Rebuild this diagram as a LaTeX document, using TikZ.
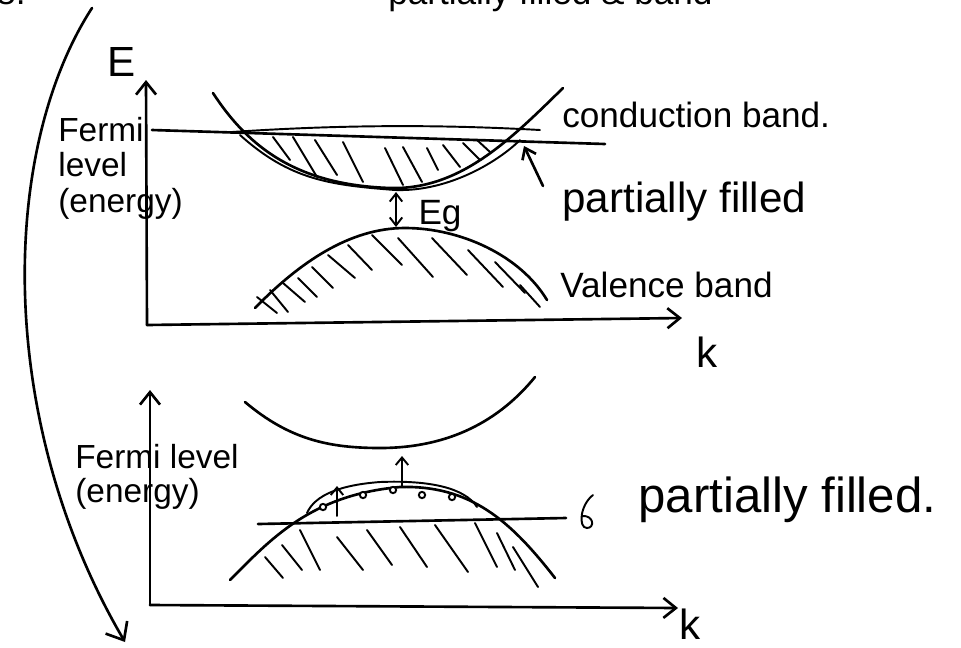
\documentclass[tikz,border=0pt]{standalone}
\usepackage{fontspec}
\setmainfont{Liberation Sans}
\usetikzlibrary{arrows.meta}
\tikzset{pen/.style={line width=1.5pt,line cap=round,line join=round},
hatch/.style={line width=1.1pt,line cap=round},
axis/.style={pen,-{Straight Barb[length=2.5mm,width=4mm]}},
lab/.style={font=\fontsize{20}{20}\selectfont,inner sep=0pt},
biglab/.style={font=\fontsize{24}{24}\selectfont,inner sep=0pt},
hugelab/.style={font=\fontsize{28}{28}\selectfont,inner sep=0pt}}

\begin{document}
\begin{tikzpicture}[x=0.02cm,y=-0.02cm]
\useasboundingbox (0,0) rectangle (961,647);
% heading, cut off by the page
\node[lab,anchor=base west] (num) at (-4,4) {8.};
\node[lab,anchor=base west] (head) at (388,4) {partially filled \& band};
% big arrow down the left side
\coordinate (swS) at (92,8);
\coordinate (swE) at (125,642);
\draw[pen,-{Straight Barb[length=3mm,width=5mm]}] (swS) .. controls (0,150) and (-5,420) .. (swE);

% ---- upper sketch: E-k with a gap ----
\coordinate (O1) at (147,325);
\coordinate (Etop) at (146,80);
\coordinate (Ktop) at (682,318);
\draw[axis] (O1) -- (Etop);
\draw[axis] (O1) -- (Ktop);
\node[biglab] (E) at (122,62) {E};
\node[biglab] (k1) at (707,352) {k};
\node[lab,align=left,anchor=base west,font=\fontsize{19}{20}\selectfont] (fermiA) at (58,212) {Fermi\\level\\(energy)};
% fermi level through the conduction band
\coordinate (F1a) at (152,130);
\coordinate (F1b) at (605,144);
\draw[pen] (F1a) -- (F1b);
\draw[hatch] (232,132) .. controls (350,124) and (450,125) .. (540,130);
% conduction band
\draw[pen] (213,93) .. controls (250,150) and (300,185) .. (390,188) .. controls (460,190) and (510,140) .. (563,88);
\draw[hatch] (240,135) .. controls (290,180) and (330,185) .. (395,190) .. controls (450,192) and (500,160) .. (520,140);
\foreach \xa/\ya/\xb/\yb in {273/137/290/160,293/137/317/177,315/140/337/175,343/142/363/182,
  385/148/403/185,403/147/422/182,427/148/438/170,443/145/460/167,463/143/480/160,477/140/490/152}
  \draw[hatch] (\xa,\ya) -- (\xb,\yb);
% gap
\coordinate (cbmin) at (396,192);
\coordinate (vbmax) at (396,227);
\draw[hatch,{Straight Barb[length=1.6mm,width=2.5mm]}-{Straight Barb[length=1.6mm,width=2.5mm]}] (cbmin) -- (vbmax);
\node[lab] (Eg) at (440,216) {Eg};
% valence band
\draw[pen] (255,308) .. controls (300,262) and (350,228) .. (405,228) .. controls (460,228) and (520,255) .. (547,300);
\foreach \xa/\ya/\xb/\yb in {257/297/277/313,270/290/288/312,283/283/305/302,298/278/317/297,312/267/333/288,
  328/255/355/278,348/245/372/270,372/235/402/265,398/238/433/277,432/238/467/275,468/250/503/287,
  495/262/525/293,520/285/540/307}
  \draw[hatch] (\xa,\ya) -- (\xb,\yb);
% labels on the right
\node[lab,anchor=base west] (cb) at (562,127) {conduction band.};
\node[biglab,anchor=base west] (pfA) at (562,212) {partially filled};
\node[lab,anchor=base west] (vb) at (560,297) {Valence band};
\coordinate (pfTail) at (543,186);
\coordinate (pfTip) at (524,146);
\draw[pen,-{Straight Barb[length=2mm,width=3mm]}] (pfTail) -- (pfTip);

% ---- lower sketch: fermi level in the valence band ----
\coordinate (O2) at (150,605);
\coordinate (Ebot) at (150,390);
\coordinate (Kbot) at (678,608);
\draw[axis] (O2) -- (Ebot);
\draw[axis] (O2) -- (Kbot);
\node[biglab] (k2) at (690,624) {k};
\node[lab,align=left,anchor=base west,font=\fontsize{19}{19}\selectfont] (fermiB) at (75,502) {Fermi level\\(energy)};
% empty conduction band
\draw[pen] (245,402) .. controls (290,440) and (330,448) .. (380,448) .. controls (450,448) and (500,420) .. (535,377);
% valence band, partly emptied
\draw[pen] (230,580) .. controls (270,540) and (310,495) .. (400,487) .. controls (470,485) and (510,520) .. (555,578);
\draw[hatch] (307,513) .. controls (315,495) and (340,485) .. (380,482) .. controls (430,480) and (465,488) .. (477,507);
\coordinate (F2a) at (258,524);
\coordinate (F2b) at (566,518);
\draw[pen] (F2a) -- (F2b);
\foreach \xa/\ya/\xb/\yb in {265/557/283/578,282/545/302/570,300/530/320/570,337/537/363/570,367/530/392/565,
  400/527/427/567,435/525/468/572,475/523/497/567,497/533/515/570,513/547/538/587}
  \draw[hatch] (\xa,\ya) -- (\xb,\yb);
\foreach \p in {(323,507),(363,495),(393,490),(422,495),(452,497)}
  \draw[hatch,fill=white] \p circle (1.8pt);
% electrons lifted out
\coordinate (eA1) at (337,516);
\coordinate (eA2) at (337,486);
\coordinate (eB1) at (402,486);
\coordinate (eB2) at (402,456);
\draw[hatch,-{Straight Barb[length=1.5mm,width=2.5mm]}] (eA1) -- (eA2);
\draw[hatch,-{Straight Barb[length=1.5mm,width=2.5mm]}] (eB1) -- (eB2);
% pointer and label
\draw[hatch] (593,495) .. controls (580,505) and (578,528) .. (587,528) .. controls (595,528) and (594,515) .. (582,516);
\node[hugelab,anchor=base west] (pfB) at (638,512) {partially filled.};
\end{tikzpicture}
\end{document}
